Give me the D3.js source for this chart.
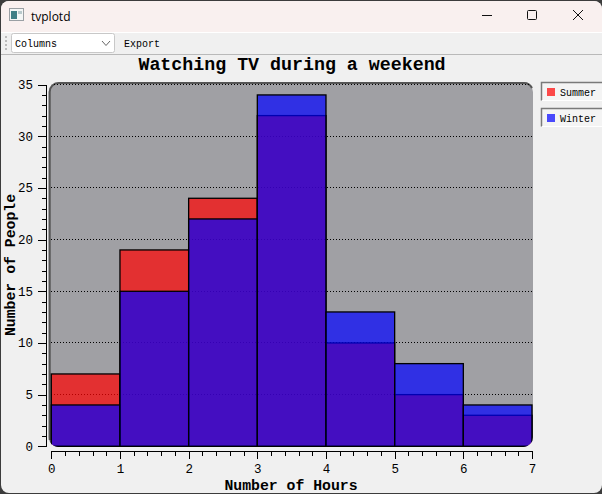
<!DOCTYPE html>
<style>
body { margin: 0; background: #3c3c3c; overflow: hidden; }
svg { display: block; }
text { font-family: "Liberation Mono", monospace; fill: #000; }
.axis .domain { stroke: #000; stroke-width: 1; }
.axis line { stroke: #000; stroke-width: 1; shape-rendering: crispEdges; }
.axis text { font-family: "Liberation Mono", monospace; font-size: 12.5px; }
.minor text { display: none; }
.grid line { stroke: #000; stroke-dasharray: 1 2; stroke-width: 1; shape-rendering: crispEdges; }
</style>
<svg width="602" height="494"></svg>
<script src="https://d3js.org/d3.v7.min.js"></script>
<script>

var hours = [0, 1, 2, 3, 4, 5, 6];
var summer = [7, 19, 24, 32, 10, 5, 3];
var winter = [4, 15, 22, 34, 13, 8, 4];
var xTicks = [0, 1, 2, 3, 4, 5, 6, 7];
var yTicks = [0, 5, 10, 15, 20, 25, 30, 35];
var legendNames = ["Summer", "Winter"];
var legendColors = ["#ff0000", "#0000ff"];

var svg = d3.select("svg");

// window chrome
svg.append("rect").attr("x", 1).attr("y", 1).attr("width", 601).attr("height", 492).attr("rx", 8).attr("fill", "#f0f0f0");
svg.append("path").attr("d", "M1,32V9a8,8 0 0 1 8,-8H594a8,8 0 0 1 8,8V32Z").attr("fill", "#f9f0ef");
svg.append("rect").attr("x", 1).attr("y", 32).attr("width", 601).attr("height", 1).attr("fill", "#fff");
svg.append("rect").attr("x", 1).attr("y", 54).attr("width", 601).attr("height", 1).attr("fill", "#b9b9b9");

// app icon
svg.append("rect").attr("x", 9.5).attr("y", 8.5).attr("width", 14).attr("height", 12).attr("fill", "#f4f6f6").attr("stroke", "#9aa0a4");
svg.append("rect").attr("x", 11).attr("y", 11).attr("width", 6).attr("height", 8).attr("fill", "#3f7f86");
svg.append("rect").attr("x", 18).attr("y", 11).attr("width", 4).attr("height", 3).attr("fill", "#b9c9cc");
svg.append("text").attr("x", 31).attr("y", 20.5).style("font-family", "'Open Sans', sans-serif").style("font-size", "12px").text("tvplotd");

// window buttons
svg.append("line").attr("x1", 482).attr("x2", 492).attr("y1", 15.5).attr("y2", 15.5).attr("stroke", "#111");
svg.append("rect").attr("x", 527.5).attr("y", 10.5).attr("width", 9).attr("height", 9).attr("rx", 1).attr("fill", "none").attr("stroke", "#111");
svg.append("path").attr("d", "M573,10L583,20M583,10L573,20").attr("stroke", "#111").attr("fill", "none");

// toolbar
[36, 40, 44, 48].forEach(function(y) {
  svg.append("rect").attr("x", 5).attr("y", y).attr("width", 2).attr("height", 2).attr("fill", "#bbb");
});
svg.append("rect").attr("x", 11.5).attr("y", 33.5).attr("width", 103).attr("height", 19).attr("rx", 2).attr("fill", "#fff").attr("stroke", "#c8c8c8");
svg.append("text").attr("x", 15).attr("y", 47).style("font-size", "10px").text("Columns");
svg.append("path").attr("d", "M102,41L106,45.5L110,41").attr("fill", "none").attr("stroke", "#666");
svg.append("text").attr("x", 124).attr("y", 47).style("font-size", "10px").text("Export");

// plot
var x = d3.scaleLinear().domain([0, 7]).range([51.3, 532]);
var y = d3.scaleLinear().domain([0, 35]).range([446.3, 84.6]);
var barW = x(1) - x(0);

var defs = svg.append("defs");
defs.append("clipPath").attr("id", "canvas").append("rect")
    .attr("x", 48.5).attr("y", 82).attr("width", 484.5).attr("height", 365).attr("rx", 10);

svg.append("rect").attr("x", 48.5).attr("y", 82).attr("width", 484.5).attr("height", 365).attr("rx", 10).attr("fill", "#a0a0a4");
svg.append("path").attr("d", "M49.7,440V92a9,9 0 0 1 9,-9H524a9,9 0 0 1 8,5")
    .attr("fill", "none").attr("stroke", "#555").attr("stroke-width", 2);

var plot = svg.append("g").attr("clip-path", "url(#canvas)");

plot.append("g").attr("class", "grid")
  .selectAll("line")
  .data(yTicks.slice(1))
  .enter().append("line")
    .attr("x1", x(0)).attr("x2", x(7))
    .attr("y1", function(d) { return y(d); })
    .attr("y2", function(d) { return y(d); });

function drawBars(values, color) {
  plot.append("g")
    .selectAll("rect")
    .data(values)
    .enter().append("rect")
      .attr("x", function(d, i) { return x(hours[i]); })
      .attr("y", function(d) { return y(d); })
      .attr("width", barW)
      .attr("height", function(d) { return y(0) - y(d); })
      .attr("fill", color)
      .attr("fill-opacity", 0.7)
      .attr("stroke", "#000")
      .attr("stroke-width", 1.3);
}
drawBars(summer, legendColors[0]);
drawBars(winter, legendColors[1]);

// axes
var xMinor = d3.range(0, 35).map(function(i) { return i / 5; });
var yMinor = d3.range(0, 36);

svg.append("g").attr("class", "axis minor")
    .attr("transform", "translate(0,451)")
    .call(d3.axisBottom(x).tickValues(xMinor).tickSize(5).tickSizeOuter(0));
svg.append("g").attr("class", "axis")
    .attr("transform", "translate(0,451)")
    .call(d3.axisBottom(x).tickValues(xTicks).tickFormat(d3.format("d")).tickSize(8).tickSizeOuter(0).tickPadding(5));

svg.append("g").attr("class", "axis minor")
    .attr("transform", "translate(46,0)")
    .call(d3.axisLeft(y).tickValues(yMinor).tickSize(4).tickSizeOuter(0));
svg.append("g").attr("class", "axis")
    .attr("transform", "translate(46,0)")
    .call(d3.axisLeft(y).tickValues(yTicks).tickFormat(d3.format("d")).tickSize(8).tickSizeOuter(0).tickPadding(5));

// titles
svg.append("text").attr("x", 292).attr("y", 70).attr("text-anchor", "middle")
    .style("font-size", "18.3px").style("font-weight", "bold").text("Watching TV during a weekend");
svg.append("text").attr("x", 291).attr("y", 490).attr("text-anchor", "middle")
    .style("font-size", "14.8px").style("font-weight", "bold").text("Number of Hours");
svg.append("text").attr("transform", "translate(15,265) rotate(-90)").attr("text-anchor", "middle")
    .style("font-size", "14.8px").style("font-weight", "bold").text("Number of People");

// legend
var legend = svg.selectAll(".leg")
    .data(legendNames)
    .enter().append("g")
      .attr("class", "leg")
      .attr("transform", function(d, i) { return "translate(541," + (82 + i * 26) + ")"; });

legend.append("rect").attr("width", 61).attr("height", 19).attr("fill", "#f4f4f4");
legend.append("path").attr("d", "M0.5,18.5V0.5H61").attr("fill", "none").attr("stroke", "#7a7a7a").attr("stroke-width", 1.5);
legend.append("path").attr("d", "M1,18.5H61").attr("fill", "none").attr("stroke", "#fff");
legend.append("rect").attr("x", 6).attr("y", 6).attr("width", 8).attr("height", 8)
    .attr("fill", function(d, i) { return legendColors[i]; }).attr("fill-opacity", 0.7);
legend.append("text").attr("x", 19).attr("y", 13.5).style("font-size", "10px").text(function(d) { return d; });

</script>
